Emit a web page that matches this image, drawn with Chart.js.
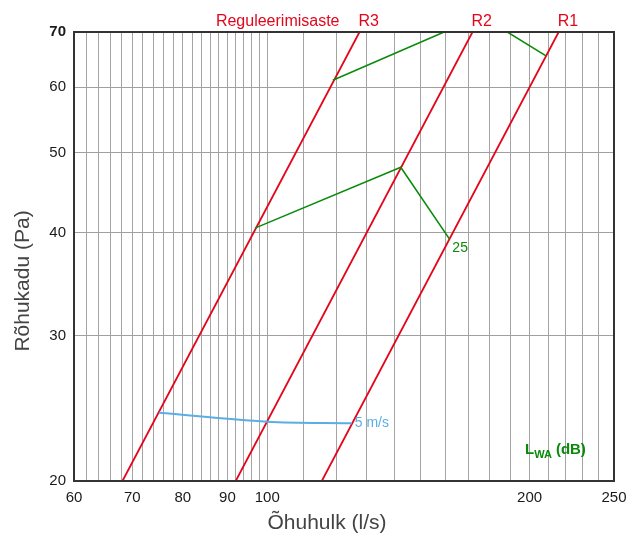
<!DOCTYPE html>
<html>
<head>
<meta charset="utf-8">
<script src="https://cdn.jsdelivr.net/npm/chart.js@4/dist/chart.umd.min.js"></script>
<style>
  html, body { margin: 0; padding: 0; background: #fff; }
  #wrap { width: 636px; height: 536px; }
</style>
</head>
<body>
<div id="wrap"><canvas id="chart" width="636" height="536"></canvas></div>
<script>
// axis ticks
const flowGrid = [60, 62, 64, 66, 68, 70, 72, 74, 76, 78, 80, 82, 84, 86, 88, 90, 92, 94, 96, 98, 100,
    110, 120, 130, 140, 150, 160, 170, 180, 190, 200, 210, 220, 230, 240, 250];
const flowLabels = [60, 70, 80, 90, 100, 200, 250];
const presGrid = [20, 30, 40, 50, 60, 70];

// regulation lines (l/s, Pa)
const r1Flow = [115.5, 216];
const r1Pres = [20, 70];
const r2Flow = [92, 172];
const r2Pres = [20, 70];
const r3Flow = [68.2, 127.6];
const r3Pres = [20, 70];

// sound level 25 dB
const lwa25Flow = [96.8, 142.3, 161.8];
const lwa25Pres = [40.5, 48.0, 39.3];
// next sound level (top runs off the chart)
const lwaTopFlow = [118.9, 176, 208.9];
const lwaTopPres = [61.2, 73.2, 65.5];

// duct velocity 5 m/s
const velFlow = [75.1, 100, 125];
const velPres = [24.2, 23.6, 23.5];

const RED = '#e3061b';
const GREEN = '#0a8a0a';
const BLUE = '#5aaee6';

function pts(xs, ys) {
    return xs.map((x, i) => ({ x: x, y: ys[i] }));
}

function line(label, xs, ys, color, width, tension) {
    return {
        label: label,
        data: pts(xs, ys),
        borderColor: color,
        borderWidth: width,
        pointRadius: 0,
        tension: tension || 0,
        fill: false
    };
}

// labels, frame and axis titles
const extras = {
    id: 'extras',
    afterDatasetsDraw(chart) {
        const ctx = chart.ctx;
        const a = chart.chartArea;
        const x = chart.scales.x;
        const y = chart.scales.y;
        ctx.save();

        ctx.strokeStyle = '#333';
        ctx.lineWidth = 2;
        ctx.strokeRect(a.left, a.top, a.right - a.left, a.bottom - a.top);

        ctx.fillStyle = RED;
        ctx.font = '16px "Liberation Sans", Arial, sans-serif';
        ctx.textBaseline = 'alphabetic';
        ctx.textAlign = 'left';
        ctx.fillText('R3', x.getPixelForValue(r3Flow[1]) - 1, a.top - 6);
        ctx.fillText('R2', x.getPixelForValue(r2Flow[1]) - 1, a.top - 6);
        ctx.fillText('R1', x.getPixelForValue(r1Flow[1]) - 1, a.top - 6);
        ctx.textAlign = 'right';
        ctx.fillText('Reguleerimisaste', x.getPixelForValue(r3Flow[1]) - 20, a.top - 6);

        ctx.font = '14px "Liberation Sans", Arial, sans-serif';
        ctx.fillStyle = GREEN;
        ctx.textAlign = 'left';
        ctx.textBaseline = 'top';
        ctx.fillText('25', x.getPixelForValue(lwa25Flow[2]) + 3, y.getPixelForValue(lwa25Pres[2]) + 2);

        ctx.fillStyle = BLUE;
        ctx.textBaseline = 'middle';
        ctx.fillText('5 m/s', x.getPixelForValue(velFlow[2]) + 3, y.getPixelForValue(velPres[2]));

        // L_WA (dB)
        ctx.fillStyle = GREEN;
        ctx.textBaseline = 'alphabetic';
        let lx = a.right - 89;
        const ly = a.bottom - 27;
        ctx.font = 'bold 15px "Liberation Sans", Arial, sans-serif';
        ctx.fillText('L', lx, ly);
        lx += ctx.measureText('L').width;
        ctx.font = 'bold 11px "Liberation Sans", Arial, sans-serif';
        ctx.fillText('WA', lx, ly + 4);
        lx += ctx.measureText('WA').width + 4;
        ctx.font = 'bold 15px "Liberation Sans", Arial, sans-serif';
        ctx.fillText('(dB)', lx, ly);

        // axis titles
        ctx.fillStyle = '#444';
        ctx.font = '21px "Liberation Sans", Arial, sans-serif';
        ctx.textAlign = 'center';
        ctx.textBaseline = 'middle';
        ctx.fillText('Õhuhulk (l/s)', 327, 523);
        ctx.translate(23, 281);
        ctx.rotate(-Math.PI / 2);
        ctx.fillText('Rõhukadu (Pa)', 0, 0);
        ctx.restore();
    }
};

const config = {
    type: 'line',
    data: {
        datasets: [
            line('LWA 25', lwa25Flow, lwa25Pres, GREEN, 1.6),
            line('LWA', lwaTopFlow, lwaTopPres, GREEN, 1.6),
            line('5 m/s', velFlow, velPres, BLUE, 2, 0.35),
            line('R1', r1Flow, r1Pres, RED, 1.8),
            line('R2', r2Flow, r2Pres, RED, 1.8),
            line('R3', r3Flow, r3Pres, RED, 1.8)
        ]
    },
    options: {
        responsive: false,
        animation: false,
        layout: { padding: { left: 0, right: 22, top: 32, bottom: 0 } },
        plugins: {
            legend: { display: false },
            tooltip: { enabled: false }
        },
        scales: {
            x: {
                type: 'logarithmic',
                min: 60,
                max: 250,
                afterBuildTicks: s => { s.ticks = flowGrid.map(v => ({ value: v })); },
                afterFit: s => { s.height = 55; },
                grid: { color: '#a4a4a4', lineWidth: 1, drawTicks: false },
                border: { display: false },
                ticks: {
                    autoSkip: false,
                    maxRotation: 0,
                    padding: 8,
                    color: '#1a1a1a',
                    font: { family: '"Liberation Sans", Arial, sans-serif', size: 15 },
                    callback: v => flowLabels.includes(v) ? String(v) : ''
                }
            },
            y: {
                type: 'logarithmic',
                min: 20,
                max: 70,
                afterBuildTicks: s => { s.ticks = presGrid.map(v => ({ value: v })); },
                afterFit: s => { s.width = 74; },
                grid: { color: '#a0a0a0', lineWidth: 1, drawTicks: false },
                border: { display: false },
                ticks: {
                    autoSkip: false,
                    padding: 8,
                    color: '#1a1a1a',
                    font: ctx => ({
                        family: '"Liberation Sans", Arial, sans-serif',
                        size: 15,
                        weight: ctx.tick && ctx.tick.value === 70 ? 'bold' : 'normal'
                    }),
                    callback: v => String(v)
                }
            }
        }
    },
    plugins: [extras]
};

var ctx = document.getElementById('chart');
var chart = new Chart(ctx, config);
</script>
</body>
</html>
